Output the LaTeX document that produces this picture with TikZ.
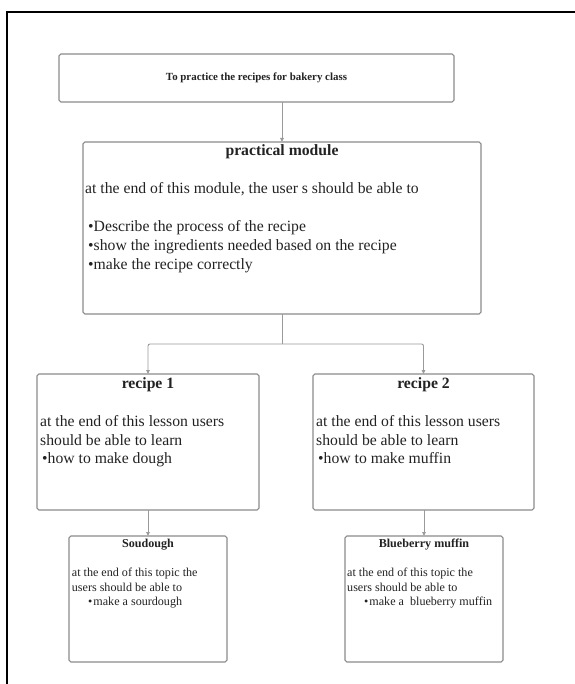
\documentclass[tikz,border=0pt]{standalone}
\usepackage{fontspec}
\setmainfont{Liberation Serif}
\usetikzlibrary{arrows.meta}
\definecolor{boxgray}{HTML}{8A8A8A}
\definecolor{linegray}{HTML}{9A9A9A}
\definecolor{ink}{HTML}{222222}
\begin{document}
\begin{tikzpicture}[x=1pt,y=-1pt,
  box/.style={draw=boxgray, line width=1.1pt, rounded corners=1.8pt, inner sep=0pt, outer sep=0pt},
  conn/.style={draw=linegray, line width=0.9pt, -{Triangle[length=4pt,width=3.6pt]}},
  plain/.style={draw=linegray, line width=0.9pt},
  bigtxt/.style={text=ink, inner sep=0pt, anchor=base west, font=\fontsize{15.7}{18.9}\selectfont},
  bigtitle/.style={text=ink, inner sep=0pt, anchor=base, font=\bfseries\fontsize{15.7}{18.9}\selectfont},
  smalltxt/.style={text=ink, inner sep=0pt, anchor=base west, font=\fontsize{12.1}{14.5}\selectfont},
  smalltitle/.style={text=ink, inner sep=0pt, anchor=base, font=\bfseries\fontsize{12.1}{14.5}\selectfont}
]
\useasboundingbox (0,0) rectangle (574,684);
% outer frame (clipped by page)
\draw[line width=2pt, line join=miter] (7,690) -- (7,12) -- (580,12);

% boxes
\node[box, minimum width=395pt, minimum height=48pt, text=ink,
      font=\bfseries\fontsize{10.9}{13}\selectfont] (goal) at (256.5,78)
      {To practice the recipes for bakery class};
\node[box, minimum width=398pt, minimum height=172pt] (pm) at (282,228) {};
\node[box, minimum width=222pt, minimum height=136pt] (r1) at (148,442) {};
\node[box, minimum width=221pt, minimum height=136pt] (r2) at (423.5,442) {};
\node[box, minimum width=158pt, minimum height=126pt] (sd) at (148,599) {};
\node[box, minimum width=158pt, minimum height=126pt] (bm) at (424,599) {};

% connectors
\coordinate (split) at (282,344);
\draw[conn] (pm.north |- goal.south) -- (pm.north);
\draw[plain] (pm.south) -- (split);
\draw[conn, rounded corners=2pt] (split) -| (r1.north);
\draw[conn, rounded corners=2pt] (split) -| (r2.north);
\draw[conn] (r1.south) -- (sd.north);
\draw[conn] (r2.south -| bm.north) -- (bm.north);

% practical module text
\node[bigtitle] (pmt) at (282,156) {practical module};
\node[bigtxt] (pm1) at (85,194) {at the end of this module, the user s should be able to};
\node[bigtxt] (pm2) at (88,231.7) {•Describe the process of the recipe};
\node[bigtxt] (pm3) at (88,250.7) {•show the ingredients needed based on the recipe};
\node[bigtxt] (pm4) at (88,269.3) {•make the recipe correctly};

% recipe 1 text
\node[bigtitle] (r1t) at (148,388.7) {recipe 1};
\node[bigtxt] (r1a) at (40,426) {at the end of this lesson users};
\node[bigtxt] (r1b) at (40,445) {should be able to learn};
\node[bigtxt] (r1c) at (42,463.7) {•how to make dough};

% recipe 2 text
\node[bigtitle] (r2t) at (423.5,388.7) {recipe 2};
\node[bigtxt] (r2a) at (316,426) {at the end of this lesson users};
\node[bigtxt] (r2b) at (316,445) {should be able to learn};
\node[bigtxt] (r2c) at (318,463.7) {•how to make muffin};

% soudough text
\node[smalltitle] (sdt) at (148,547.7) {Soudough};
\node[smalltxt] (sda) at (71.7,576.7) {at the end of this topic the};
\node[smalltxt] (sdb) at (71.7,591.7) {users should be able to};
\node[smalltxt] (sdc) at (88,605.7) {•\kern1pt make a sourdough};

% blueberry text
\node[smalltitle] (bmt) at (424,547.7) {Blueberry muffin};
\node[smalltxt] (bma) at (347,576.7) {at the end of this topic the};
\node[smalltxt] (bmb) at (347,591.7) {users should be able to};
\node[smalltxt] (bmc) at (364,605.7) {•\kern1pt make a\ \ blueberry muffin};
\end{tikzpicture}
\end{document}
